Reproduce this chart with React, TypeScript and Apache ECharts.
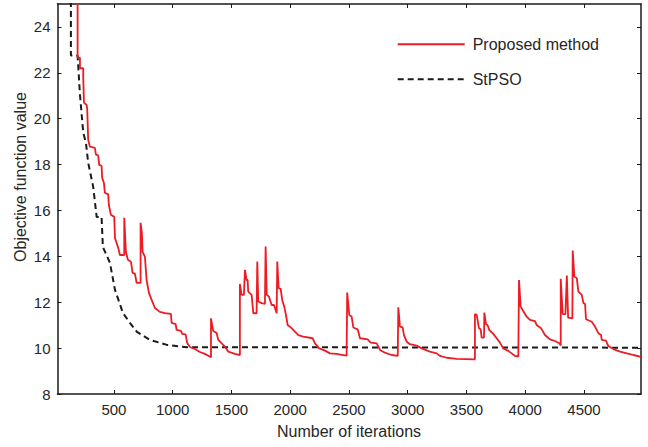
import React, { useEffect, useRef } from "react";
import * as echarts from "echarts";

const xTicks = [500, 1000, 1500, 2000, 2500, 3000, 3500, 4000, 4500];
const yTicks = [8, 10, 12, 14, 16, 18, 20, 22, 24];

const stpsoIter = [134, 134, 191, 211, 239, 262, 281, 324, 353, 395, 406, 466, 509, 577, 636, 696, 806, 951, 1121, 4985];
const stpsoValue = [26, 22.75, 22.75, 21.05, 19.39, 18.95, 18.08, 17.03, 15.72, 15.72, 14.41, 13.72, 12.54, 11.53, 11.1, 10.71, 10.36, 10.14, 10.04, 10.02];

const proposedIter = [
  191, 191, 211, 211, 239, 239, 245, 268, 273, 281, 296, 338, 347, 366, 375, 395, 400, 415, 423, 451,
  457, 474, 503, 509, 537, 551, 588, 588, 602, 619, 645, 659, 679, 693, 727, 727, 738, 744, 764, 778,
  798, 821, 849, 891, 934, 985, 991, 1025, 1034, 1070, 1081, 1110, 1124, 1147, 1189, 1232, 1274, 1326, 1326, 1345,
  1374, 1388, 1417, 1445, 1473, 1530, 1572, 1572, 1587, 1606, 1615, 1629, 1638, 1643, 1672, 1686, 1714, 1720, 1728, 1757,
  1785, 1791, 1800, 1819, 1842, 1862, 1885, 1890, 1902, 1919, 1932, 1949, 1964, 1978, 2012, 2040, 2069, 2111, 2191, 2211,
  2247, 2296, 2338, 2395, 2438, 2480, 2485, 2503, 2523, 2537, 2574, 2594, 2659, 2685, 2736, 2764, 2806, 2863, 2915, 2920,
  2934, 2957, 2968, 2991, 3019, 3076, 3119, 3189, 3246, 3275, 3332, 3417, 3572, 3572, 3587, 3606, 3621, 3629, 3649, 3652,
  3666, 3680, 3694, 3728, 3757, 3785, 3813, 3856, 3885, 3913, 3941, 3947, 3961, 3978, 4012, 4040, 4083, 4097, 4134, 4168,
  4210, 4253, 4290, 4302, 4302, 4319, 4342, 4354, 4365, 4401, 4404, 4418, 4439, 4452, 4481, 4495, 4509, 4517, 4566, 4594,
  4622, 4645, 4651, 4687, 4707, 4750, 4807, 4864, 4920, 4985,
];
const proposedValue = [
  25.5, 22.66, 22.66, 22.2, 22.2, 21.83, 20.7, 20.6, 20.4, 19.08, 18.78, 18.73, 18.43, 18.4, 17.99, 17.95, 17.42, 17.2, 16.77, 16.7,
  16.25, 15.81, 15.72, 14.8, 14.37, 14.06, 14.06, 15.68, 14.2, 13.85, 13.76, 13.28, 13.25, 12.84, 12.84, 15.46, 15.02, 14.2, 13.98, 12.97,
  12.41, 12.1, 11.75, 11.58, 11.53, 11.49, 11.1, 11.05, 10.79, 10.75, 10.62, 10.6, 10.22, 10.05, 9.96, 9.83, 9.75, 9.6, 11.3, 10.75,
  10.66, 10.36, 10.21, 10.06, 9.85, 9.75, 9.7, 12.8, 12.32, 12.32, 13.41, 12.97, 12.97, 12.46, 12.32, 11.52, 11.52, 13.77, 12.03, 11.96,
  11.93, 14.43, 12.32, 12.25, 11.88, 11.88, 11.52, 13.77, 12.61, 12.58, 12.1, 11.81, 11.45, 11.01, 10.87, 10.72, 10.57, 10.5, 10.43, 10.21,
  9.99, 9.89, 9.77, 9.75, 9.71, 9.67, 12.42, 11.45, 11.37, 10.9, 10.82, 10.43, 10.38, 10.24, 10.21, 9.92, 9.8, 9.7, 9.66, 11.78,
  10.94, 10.9, 10.57, 10.28, 10.17, 10.11, 9.99, 9.85, 9.77, 9.66, 9.58, 9.53, 9.51, 11.48, 11.45, 10.87, 10.82, 10.46, 10.46, 11.55,
  11.05, 11.0, 10.79, 10.62, 10.43, 10.24, 9.99, 9.88, 9.77, 9.66, 9.63, 12.97, 11.81, 11.66, 11.37, 11.23, 11.18, 11.01, 10.87, 10.57,
  10.38, 10.31, 10.21, 10.11, 13.02, 11.48, 11.48, 13.16, 11.33, 11.3, 14.25, 13.12, 13.05, 12.46, 12.32, 11.96, 11.93, 11.26, 11.15, 10.94,
  10.65, 10.57, 10.36, 10.33, 10.09, 9.96, 9.85, 9.77, 9.7, 9.62,
];

const FONT = "'Liberation Sans', Arial, sans-serif";
const TEXT = "#262626";
const AXIS = "#1a1a1a";

export default function App() {
  const ref = useRef<HTMLDivElement>(null);
  useEffect(() => {
    if (!ref.current) return;
    const chart = echarts.init(ref.current, null, { renderer: "svg" });
    const zip = (a: number[], b: number[]) => a.map((v, i) => [v, b[i]]);
    const axisCommon = {
      axisLine: { show: true, onZero: false, lineStyle: { color: AXIS, width: 1.5 } },
      axisTick: { show: true, inside: true, length: 4, lineStyle: { color: AXIS, width: 1 } },
      splitLine: { show: false },
    };
    const plain = (v: number) => String(v);
    chart.setOption({
      animation: false,
      backgroundColor: "#ffffff",
      textStyle: { fontFamily: FONT },
      grid: { left: 57.5, right: 7, top: 4, bottom: 53, containLabel: false },
      legend: {
        orient: "vertical",
        left: 396.7,
        top: 36.3,
        padding: 0,
        itemWidth: 67,
        itemHeight: 16,
        itemGap: 19,
        itemStyle: { opacity: 0 },
        textStyle: { fontSize: 16, color: TEXT, fontFamily: FONT, padding: [0, 0, 0, 3] },
        data: [{ name: "Proposed method" }, { name: "StPSO" }],
      },
      xAxis: [
        {
          type: "value",
          min: 20,
          max: 4985,
          position: "bottom",
          ...axisCommon,
          axisTick: { ...axisCommon.axisTick, customValues: xTicks },
          axisLabel: { customValues: xTicks, formatter: plain, fontSize: 15, color: TEXT, margin: 8, fontFamily: FONT },
        },
        {
          type: "value",
          min: 20,
          max: 4985,
          position: "top",
          ...axisCommon,
          axisTick: { ...axisCommon.axisTick, customValues: xTicks },
          axisLabel: { show: false },
        },
      ],
      yAxis: [
        {
          type: "value",
          min: 8,
          max: 25,
          position: "left",
          ...axisCommon,
          axisTick: { ...axisCommon.axisTick, customValues: yTicks },
          axisLabel: { customValues: yTicks, formatter: plain, fontSize: 15, color: TEXT, margin: 7, fontFamily: FONT },
        },
        {
          type: "value",
          min: 8,
          max: 25,
          position: "right",
          ...axisCommon,
          axisTick: { ...axisCommon.axisTick, customValues: yTicks },
          axisLabel: { show: false },
        },
      ],
      graphic: [
        {
          type: "text",
          x: 349,
          y: 431,
          style: {
            text: "Number of iterations",
            fontSize: 16,
            fill: TEXT,
            fontFamily: FONT,
            align: "center",
            verticalAlign: "middle",
          },
        },
        {
          type: "text",
          x: 20,
          y: 177,
          rotation: Math.PI / 2,
          style: {
            text: "Objective function value",
            fontSize: 16,
            fill: TEXT,
            fontFamily: FONT,
            align: "center",
            verticalAlign: "middle",
          },
        },
      ],
      series: [
        {
          name: "Proposed method",
          type: "line",
          symbol: "none",
          clip: true,
          data: zip(proposedIter, proposedValue),
          lineStyle: { color: "#ed1c24", width: 1.8 },
          itemStyle: { color: "#ed1c24" },
          z: 3,
        },
        {
          name: "StPSO",
          type: "line",
          symbol: "none",
          clip: true,
          data: zip(stpsoIter, stpsoValue),
          lineStyle: { color: "#1a1a1a", width: 2, type: [6, 4] },
          itemStyle: { color: "#1a1a1a" },
          z: 2,
        },
      ],
    });
    return () => chart.dispose();
  }, []);
  return (
    <div
      ref={ref}
      style={{ position: "fixed", left: 0, top: 0, width: 648, height: 447, background: "#fff" }}
    />
  );
}
